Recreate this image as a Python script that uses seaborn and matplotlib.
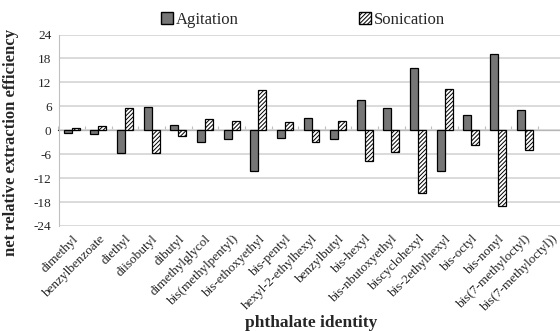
import numpy as np
import pandas as pd
import matplotlib
matplotlib.use("Agg")
import matplotlib.pyplot as plt
import seaborn as sns
from matplotlib.patches import Patch

# data
phthalates = ["dimethyl", "benzylbenzoate", "diethyl", "diisobutyl", "dibutyl",
              "dimethylglycol", "bis(methylpentyl)", "bis-ethoxyethyl", "bis-pentyl",
              "hexyl-2-ethylhexyl", "benzylbutyl", "bis-hexyl", "bis-nbutoxyethyl",
              "biscyclohexyl", "bis-2ethylhexyl", "bis-octyl", "bis-nonyl",
              "bis(7-methyloctyl)", "bis(7-methyloctyl))"]
agitation = [-0.6, -0.9, -5.8, 5.8, 1.4, -3.0, -2.2, -10.1, -1.9, 3.1, -2.1,
             7.7, 5.6, 15.6, -10.25, 3.75, 19.1, 5.0, np.nan]
sonication = [0.6, 1.0, 5.6, -5.8, -1.5, 2.9, 2.2, 10.0, 2.1, -3.0, 2.2,
              -7.7, -5.5, -15.7, 10.3, -3.6, -19.0, -5.0, np.nan]
yticks = [-24, -18, -12, -6, 0, 6, 12, 18, 24]

df = pd.DataFrame({
    "phthalate": phthalates * 2,
    "method": ["Agitation"] * len(phthalates) + ["Sonication"] * len(phthalates),
    "value": agitation + sonication,
})

sns.set_style("white")
plt.rcParams["font.family"] = ["Liberation Serif", "DejaVu Serif"]
plt.rcParams["hatch.color"] = "#8c8c8c"
plt.rcParams["hatch.linewidth"] = 0.7

AX_W = 506
fig = plt.figure(figsize=(5.6, 3.31), dpi=100)
ax = fig.add_axes([58.5 / 560, 1 - 226 / 331, AX_W / 560, (226 - 34.5) / 331])

sns.barplot(data=df, x="phthalate", y="value", hue="method", order=phthalates,
            hue_order=["Agitation", "Sonication"],
            palette=["#767676", "white"], width=0.6, edgecolor="black",
            linewidth=0.9, legend=False, ax=ax, errorbar=None)

for bar in ax.containers[1]:
    bar.set_hatch("////////")

ax.set_ylim(-24, 24)
ax.set_xlim(-0.5, len(phthalates) - 0.5)
ax.set_yticks(yticks)
ax.set_yticklabels([str(t) for t in yticks], fontsize=9.5)
ax.yaxis.grid(True, color="#d4d4d4", linewidth=1.2)
ax.set_axisbelow(True)
for s in ["top", "right", "bottom"]:
    ax.spines[s].set_visible(False)
ax.spines["left"].set_color("#bfbfbf")
ax.tick_params(axis="y", length=3, color="#bfbfbf", pad=2)

ax.set_xticks(range(len(phthalates)))
ax.set_xticklabels(phthalates, rotation=45, ha="right", rotation_mode="anchor",
                   fontsize=9.5)
ax.tick_params(axis="x", length=0, pad=5)

# zero axis with boundary ticks
zero_ax = ax.secondary_xaxis(0.5)
zero_ax.set_xticks(np.arange(len(phthalates) + 1) - 0.5)
zero_ax.set_xticklabels([])
zero_ax.tick_params(length=3, color="#bfbfbf", direction="out")
zero_ax.spines["bottom"].set_color("#bfbfbf")
zero_ax.spines["bottom"].set_linewidth(1.2)

ax.set_ylabel("net relative extraction efficiency", fontsize=12,
              fontweight="bold")
ax.yaxis.set_label_coords((19 - 58.5) / AX_W, (226 - 142) / (226 - 34.5))
ax.set_xlabel("phthalate identity", fontsize=12.5, fontweight="bold")
ax.xaxis.set_label_coords((311 - 58.5) / AX_W, -(315 - 226) / (226 - 34.5))

handles = [Patch(facecolor="#767676", edgecolor="black", label="Agitation"),
           Patch(facecolor="white", edgecolor="black", hatch="////////", label="Sonication")]
fig.legend(handles=handles, loc="center", bbox_to_anchor=(303 / 560, 1 - 20 / 331),
           ncol=2, frameon=False, fontsize=12, handlelength=0.7, handleheight=0.7,
           handletextpad=0.2, columnspacing=7.2)

fig.savefig("out.png", dpi=100)
